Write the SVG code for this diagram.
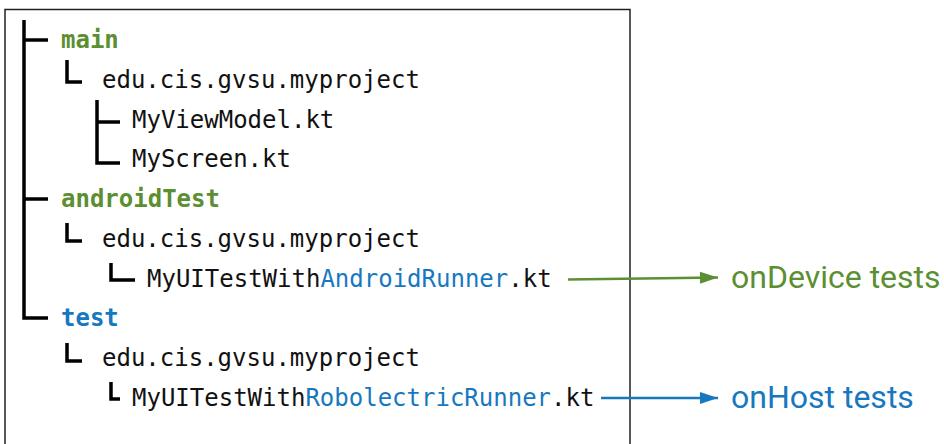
<svg xmlns="http://www.w3.org/2000/svg" width="944" height="444" viewBox="0 0 944 444">
  <defs>
    <style>
      .mono { font-family: "DejaVu Sans Mono", "Liberation Mono", monospace; font-size: 24px; fill: #111; }
      .dir { font-weight: bold; }
      .green { fill: #5b8f32; }
      .blue { fill: #1778c0; }
      .tree { stroke: #000; stroke-width: 3.5; fill: none; stroke-linecap: butt; }
      .label { font-family: Roboto, "Liberation Sans", sans-serif; font-size: 32px; }
    </style>
    <marker id="arrowGreen" markerWidth="18" markerHeight="12" refX="18" refY="6" orient="auto" markerUnits="userSpaceOnUse" viewBox="0 0 18 12">
      <path d="M0,0 L18,6 L0,12 Z" fill="#5b8f32"/>
    </marker>
    <marker id="arrowBlue" markerWidth="18" markerHeight="12" refX="18" refY="6" orient="auto" markerUnits="userSpaceOnUse" viewBox="0 0 18 12">
      <path d="M0,0 L18,6 L0,12 Z" fill="#1778c0"/>
    </marker>
  </defs>

  <rect x="0" y="0" width="944" height="444" fill="#fff"/>

  <!-- project tree frame -->
  <rect id="frame" x="5" y="9.5" width="625" height="450" fill="none" stroke="#222" stroke-width="1.5"/>

  <!-- tree branch lines -->
  <g id="tree-lines" class="tree">
    <path d="M24,20 V318 H48"/>
    <path d="M24,40 H48"/>
    <path d="M24,199 H48"/>
    <!-- main -->
    <path d="M67,60 V82 H82"/>
    <path d="M97,100 V163 H120"/>
    <path d="M97,122 H120"/>
    <!-- androidTest -->
    <path d="M67,223 V241 H82"/>
    <path d="M111,263 V280 H135"/>
    <!-- test -->
    <path d="M67,343 V361 H82"/>
    <path d="M111,382 V399 H120"/>
  </g>

  <g id="main">
    <text class="mono dir green" x="61" y="48">main</text>
  </g>
  <g id="main-pkg">
    <text class="mono" x="102" y="88">edu.cis.gvsu.myproject</text>
  </g>
  <g id="viewmodel">
    <text class="mono" x="132" y="128">MyViewModel.kt</text>
  </g>
  <g id="screen">
    <text class="mono" x="132" y="167">MyScreen.kt</text>
  </g>

  <g id="androidTest">
    <text class="mono dir green" x="61" y="207">androidTest</text>
  </g>
  <g id="androidTest-pkg">
    <text class="mono" x="102" y="247">edu.cis.gvsu.myproject</text>
  </g>
  <g id="android-runner-test">
    <text class="mono" x="147" y="287">MyUITestWith<tspan class="blue">AndroidRunner</tspan>.kt</text>
  </g>

  <g id="test">
    <text class="mono dir blue" x="61" y="326">test</text>
  </g>
  <g id="test-pkg">
    <text class="mono" x="102" y="366">edu.cis.gvsu.myproject</text>
  </g>
  <g id="robolectric-runner-test">
    <text class="mono" x="132" y="406">MyUITestWith<tspan class="blue">RobolectricRunner</tspan>.kt</text>
  </g>

  <g id="onDevice">
    <text class="label green" x="731" y="288">onDevice tests</text>
  </g>
  <g id="onHost">
    <text class="label blue" x="731" y="408">onHost tests</text>
  </g>

  <g id="connectors" fill="none" stroke-width="2.5">
    <path d="M568,279.5 L718,277.5" stroke="#5b8f32" marker-end="url(#arrowGreen)"/>
    <path d="M601,398 L718,398" stroke="#1778c0" marker-end="url(#arrowBlue)"/>
  </g>
</svg>
